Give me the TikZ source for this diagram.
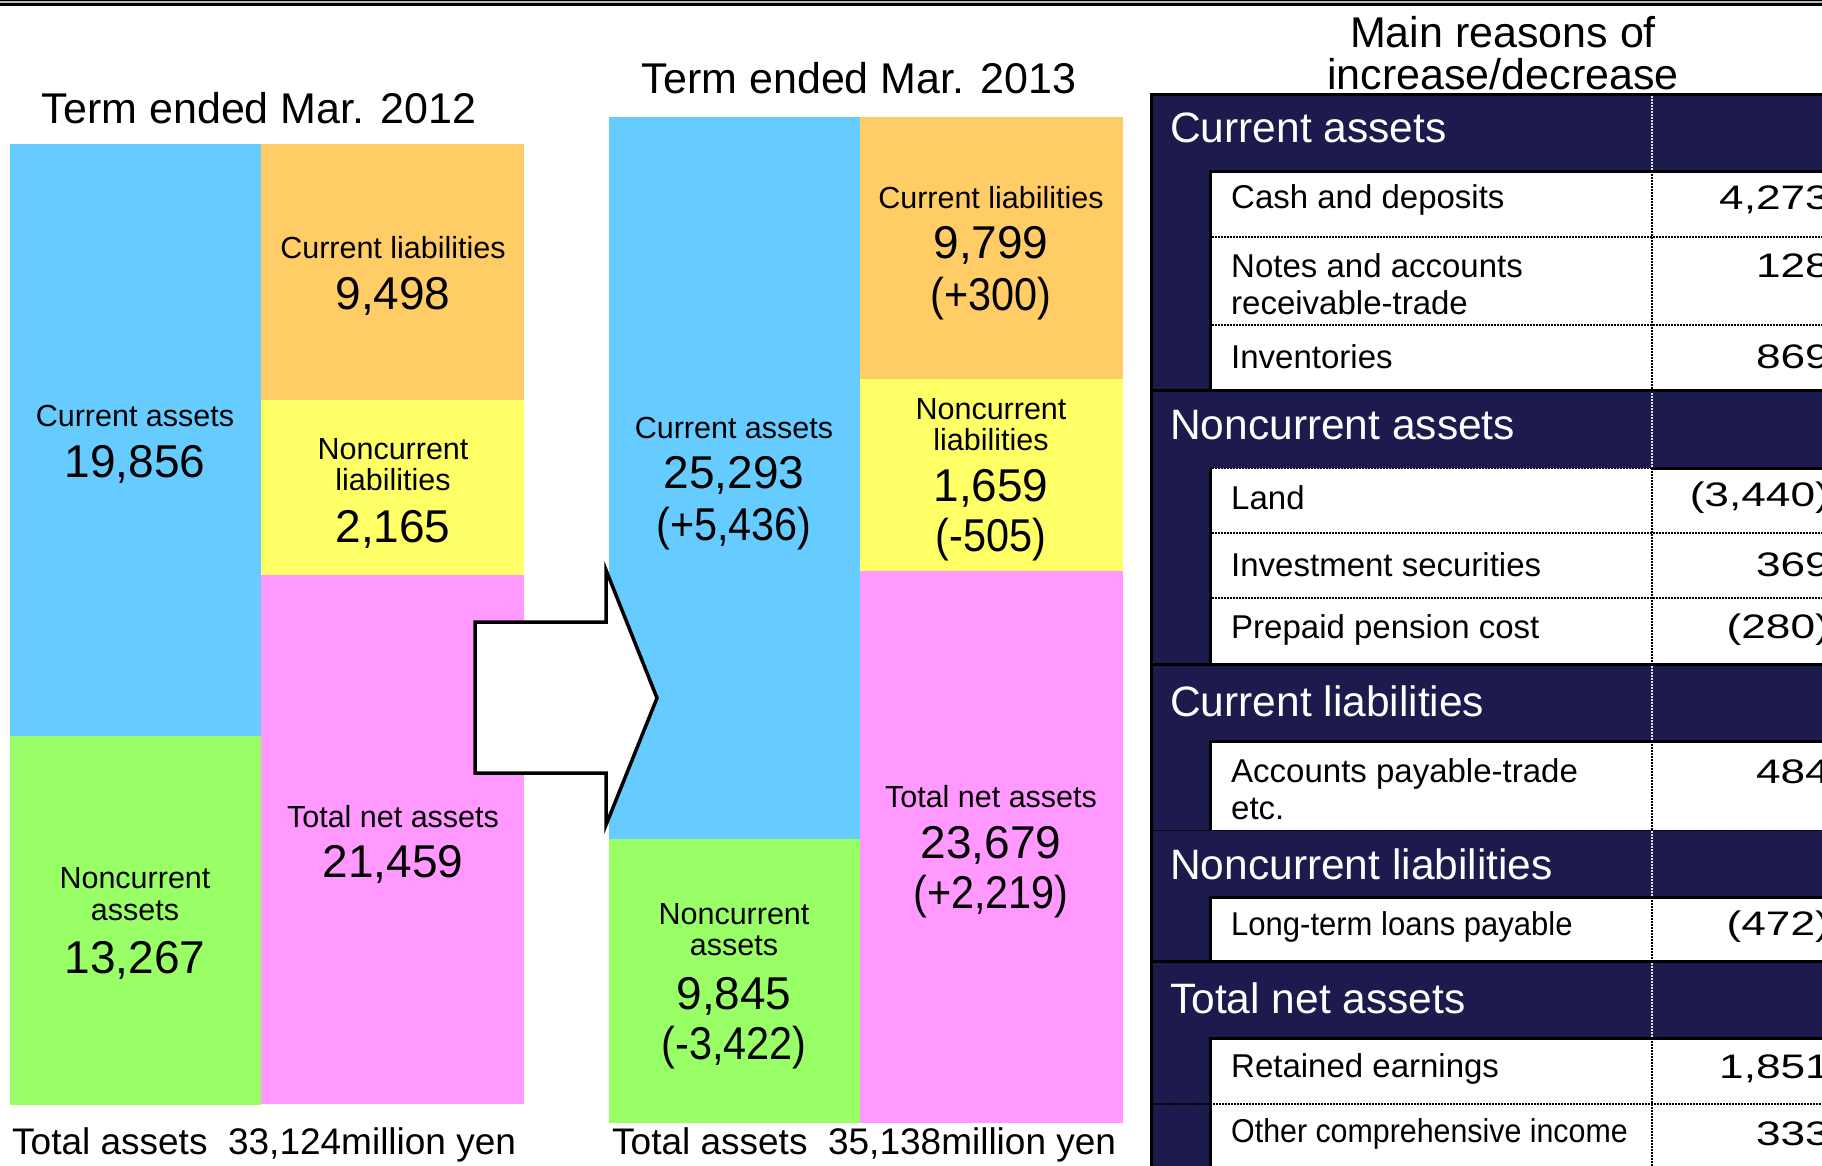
\documentclass[tikz,border=0pt]{standalone}
\usepackage{fontspec}
\setmainfont{Liberation Sans}
\usepackage{graphicx}
\definecolor{navy}{RGB}{29,27,78}
\definecolor{cblue}{RGB}{102,204,255}
\definecolor{corange}{RGB}{255,204,102}
\definecolor{cyellow}{RGB}{255,255,102}
\definecolor{cpink}{RGB}{255,153,255}
\definecolor{cgreen}{RGB}{153,255,102}
\newcommand\widenum[1]{\scalebox{1.3}[1]{#1}}
\newcommand\narrowtxt[1]{\scalebox{0.9}[1]{#1}}
\tikzset{
 lbl/.style={font=\fontsize{30.5}{36}\selectfont, inner sep=0pt},
 bignum/.style={font=\fontsize{46}{52}\selectfont, inner sep=0pt},
 ttl/.style={font=\fontsize{43}{48}\selectfont, inner sep=0pt},
 hdr/.style={font=\fontsize{42.5}{46}\selectfont, text=white, anchor=west, inner sep=0pt},
 rowlbl/.style={font=\fontsize{33}{37}\selectfont, anchor=west, inner sep=0pt, align=left},
 rowval/.style={font=\fontsize{34}{37}\selectfont, anchor=east, inner sep=0pt},
 sepline/.style={line width=3pt},
 dotline/.style={line width=1.5pt, dash pattern=on 1.5pt off 1.5pt},
 foot/.style={font=\fontsize{37}{42}\selectfont, anchor=west, inner sep=0pt},
}
\begin{document}
\begin{tikzpicture}[x=1pt,y=-1pt]
\useasboundingbox (0,0) rectangle (1822,1165);
\clip (0,0) rectangle (1822,1165);
\fill[white] (0,0) rectangle (1822,1165);
% top rule
\fill[gray!55] (0,0) rectangle (1822,3);
\fill[black] (0,0) rectangle (1822,0.8);
\fill[black] (0,3) rectangle (1822,5.7);

% ---- left balance (2012)
\fill[cblue]   (10,144) rectangle (261,735.5);
\fill[cgreen]  (10,735.5) rectangle (261,1104.5);
\fill[corange] (261,144) rectangle (524,400);
\fill[cyellow] (261,400) rectangle (524,575);
\fill[cpink]   (261,575) rectangle (524,1104);

\node[ttl] (t12) at (259,108) {Term ended Mar. 2012};
\node[lbl] (a1) at (135,416) {Current assets};
\node[bignum] (a2) at (135,464) {19,856};
\node[lbl] (a3) at (135,878) {Noncurrent};
\node[lbl] (a4) at (135,911) {assets};
\node[bignum] (a5) at (135,960) {13,267};
\node[lbl] (b1) at (393,248) {Current liabilities};
\node[bignum] (b2) at (393,296) {9,498};
\node[lbl] (b3) at (393,449) {Noncurrent};
\node[lbl] (b4) at (393,480) {liabilities};
\node[bignum] (b5) at (393,529) {2,165};
\node[lbl] (b6) at (393,817) {Total net assets};
\node[bignum] (b7) at (393,864) {21,459};
\node[foot] (f12) at (12,1145) {Total assets\ \ 33,124million yen};

% ---- middle balance (2013)
\fill[cblue]   (609,117) rectangle (860,839);
\fill[cgreen]  (609,839) rectangle (860,1123);
\fill[corange] (860,117) rectangle (1123,379);
\fill[cyellow] (860,379) rectangle (1123,571);
\fill[cpink]   (860,571) rectangle (1123,1123);

\node[ttl] (t13) at (859,78) {Term ended Mar. 2013};
\node[lbl] (c1) at (734,428) {Current assets};
\node[bignum] (c2) at (734,475) {25,293};
\node[bignum] (c3) at (734,529) {\narrowtxt{(+5,436)}};
\node[lbl] (c4) at (734,914) {Noncurrent};
\node[lbl] (c5) at (734,946) {assets};
\node[bignum] (c6) at (734,996) {9,845};
\node[bignum] (c7) at (734,1048) {\narrowtxt{(-3,422)}};
\node[lbl] (d1) at (991,198) {Current liabilities};
\node[bignum] (d2) at (991,245) {9,799};
\node[bignum] (d3) at (991,299) {\narrowtxt{(+300)}};
\node[lbl] (d4) at (991,409) {Noncurrent};
\node[lbl] (d5) at (991,440) {liabilities};
\node[bignum] (d6) at (991,488) {1,659};
\node[bignum] (d7) at (991,540) {\narrowtxt{(-505)}};
\node[lbl] (d8) at (991,797) {Total net assets};
\node[bignum] (d9) at (991,845) {23,679};
\node[bignum] (d10) at (991,897) {\narrowtxt{(+2,219)}};
\node[foot] (f13) at (612,1145) {Total assets\ \ 35,138million yen};

% ---- arrow
\draw[line width=3.5pt, fill=white, line join=miter]
  (475,622) -- (606,622) -- (606,570) -- (657,698) -- (606,825) -- (606,773) -- (475,773) -- cycle;

% ---- table
\node[ttl, align=center] (mr) at (1503,53) {Main reasons of\\[-6pt]increase/decrease};
\fill[navy] (1150,93) rectangle (1830,1170);
\fill[white] (1212,171) rectangle (1830,390);
\fill[white] (1212,468) rectangle (1830,664);
\fill[white] (1212,741) rectangle (1830,830);
\fill[white] (1212,897) rectangle (1830,961);
\fill[white] (1212,1038) rectangle (1830,1170);

% vertical dotted divider
\draw[dotline, white!85!navy] (1652,96) -- (1652,1170);
\foreach \ya/\yb in {171/390, 468/664, 741/830, 897/961, 1038/1170}
  \draw[dotline, black] (1652,\ya) -- (1652,\yb);

% row separators
\foreach \yy in {237,325,533,598}
  \draw[dotline] (1212,\yy) -- (1830,\yy);
\draw[dotline] (1150,830.5) -- (1830,830.5);
\draw[dotline] (1150,1104) -- (1830,1104);
\draw[dotline] (1212,468.5) -- (1652,468.5);

% solid black borders
\draw[sepline] (1151.5,1170) -- (1151.5,94.5) -- (1830,94.5);
\draw[sepline] (1210.5,1170) -- (1210.5,1038) -- (1830,1038);
\draw[sepline] (1150,961) -- (1830,961);
\draw[sepline] (1210.5,961) -- (1210.5,897) -- (1830,897);
\draw[sepline] (1210.5,830) -- (1210.5,741) -- (1830,741);
\draw[sepline] (1150,664) -- (1830,664);
\draw[sepline] (1210.5,664) -- (1210.5,468) -- (1212,468);
\draw[sepline] (1652,468) -- (1830,468);
\draw[sepline] (1150,390) -- (1830,390);
\draw[sepline] (1210.5,390) -- (1210.5,171) -- (1830,171);

% headers
\node[hdr] (h1) at (1170,128) {Current assets};
\node[hdr] (h2) at (1170,425) {Noncurrent assets};
\node[hdr] (h3) at (1170,701) {Current liabilities};
\node[hdr] (h4) at (1170,864) {Noncurrent liabilities};
\node[hdr] (h5) at (1170,998) {Total net assets};

% rows
\node[rowlbl] (r1) at (1231,200) {Cash and deposits};
\node[rowlbl] (r2) at (1231,284.5) {Notes and accounts\\receivable-trade};
\node[rowlbl] (r3) at (1231,357) {Inventories};
\node[rowlbl] (r4) at (1231,498) {Land};
\node[rowlbl] (r5) at (1231,565) {Investment securities};
\node[rowlbl] (r6) at (1231,630) {Prepaid pension cost};
\node[rowlbl] (r7) at (1231,789) {Accounts payable-trade\\etc.};
\node[rowlbl] (r8) at (1231,927) {\scalebox{0.94}[1]{Long-term loans payable}};
\node[rowlbl] (r9) at (1231,1069) {Retained earnings};
\node[rowlbl] (r10) at (1231,1134) {\scalebox{0.92}[1]{Other comprehensive income}};

% values
\node[rowval] (v1) at (1830,200) {\widenum{4,273}};
\node[rowval] (v2) at (1830,266) {\widenum{128}};
\node[rowval] (v3) at (1830,357) {\widenum{869}};
\node[rowval] (v4) at (1830,498) {\widenum{(3,440)}};
\node[rowval] (v5) at (1830,565) {\widenum{369}};
\node[rowval] (v6) at (1830,630) {\widenum{(280)}};
\node[rowval] (v7) at (1830,772) {\widenum{484}};
\node[rowval] (v8) at (1830,927) {\widenum{(472)}};
\node[rowval] (v9) at (1830,1069) {\widenum{1,851}};
\node[rowval] (v10) at (1830,1134) {\widenum{333}};
\end{tikzpicture}
\end{document}
